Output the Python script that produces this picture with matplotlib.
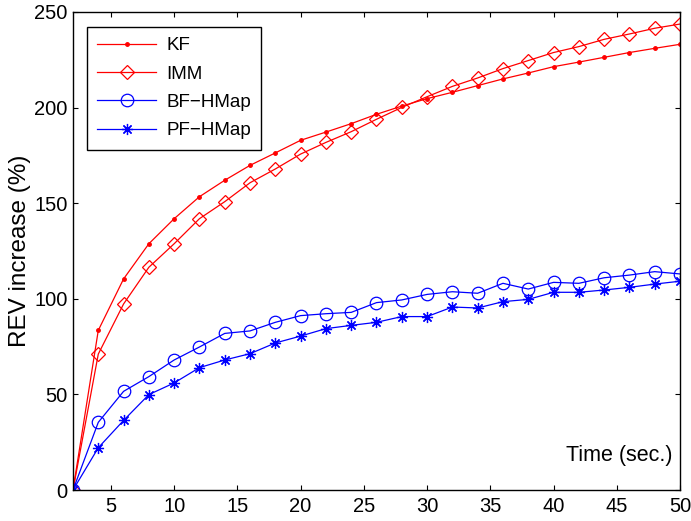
import matplotlib
matplotlib.use("Agg")
import matplotlib.pyplot as plt

time = [2, 4, 6, 8, 10, 12, 14, 16, 18, 20, 22, 24, 26, 28, 30,
        32, 34, 36, 38, 40, 42, 44, 46, 48, 50]
kf = [0, 83.5, 110.4, 128.8, 141.9, 153.4, 162.0, 169.8, 176.3, 182.9, 187.2, 191.6, 196.5,
      200.8, 204.7, 208.0, 211.5, 215.0, 218.1, 221.4, 223.8, 226.3, 228.8, 231.0, 233.1]
imm = [0, 71.1, 97.3, 116.5, 128.8, 141.9, 150.8, 160.7, 167.9, 175.7, 181.8, 187.4, 193.9,
       200.1, 205.7, 211.1, 215.5, 220.4, 224.6, 228.8, 231.9, 235.7, 238.5, 241.5, 243.7]
bf_hmap = [0, 35.4, 51.6, 59.3, 68.0, 74.8, 81.9, 83.2, 87.7, 91.2, 92.2, 92.9, 98.0,
           99.4, 102.3, 103.7, 102.9, 108.1, 105.1, 108.6, 108.1, 111.0, 112.4, 114.2, 113.0]
pf_hmap = [0, 22.1, 36.4, 49.9, 56.0, 64.0, 68.0, 71.3, 76.9, 80.5, 84.4, 86.1, 87.7,
           90.7, 90.7, 95.7, 95.2, 98.5, 99.7, 103.4, 103.4, 104.6, 106.0, 107.7, 109.2]
xticks = [5, 10, 15, 20, 25, 30, 35, 40, 45, 50]
yticks = [0, 50, 100, 150, 200, 250]

plt.rcParams['font.family'] = ['Liberation Sans', 'DejaVu Sans']

fig = plt.figure(figsize=(6.91, 5.21), dpi=100)
ax = fig.add_axes([73/691, 31/521, (680-73)/691, (490-12)/521])

red = '#ff0000'
blue = '#0000ff'
ax.plot(time, kf, color=red, lw=0.9, marker='.', ms=5, label='KF')
ax.plot(time, imm, color=red, lw=0.9, marker='D', ms=7.5, mfc='none', mew=0.9, label='IMM')
ax.plot(time, bf_hmap, color=blue, lw=0.9, marker='o', ms=9, mfc='none', mew=0.9, label='BF\u2212HMap')
ax.plot(time, pf_hmap, color=blue, lw=0.9, marker=(8, 2, 0), ms=8, mew=0.9, label='PF\u2212HMap')

ax.set_xlim(2, 50)
ax.set_ylim(0, 250)
ax.set_xticks(xticks)
ax.set_yticks(yticks)
ax.tick_params(direction='in', labelsize=14.5, length=3.5, width=0.8, top=True, right=True)
ax.tick_params(axis='x', pad=5)
ax.tick_params(axis='y', pad=4)
for s in ax.spines.values():
    s.set_linewidth(1.0)
ax.set_ylabel('REV increase (%)', fontsize=17.5, labelpad=2)
ax.text(0.987, 0.05, 'Time (sec.)', transform=ax.transAxes, ha='right', va='bottom', fontsize=15.5)

leg = ax.legend(loc='upper left', bbox_to_anchor=(0.023, 0.969), borderaxespad=0,
                fontsize=13.5, frameon=True,
                fancybox=False, edgecolor='black', framealpha=1, handlelength=3.15,
                borderpad=0.55, labelspacing=0.6, handletextpad=0.53)
leg.get_frame().set_linewidth(1.0)

fig.savefig('out.png', dpi=100)
